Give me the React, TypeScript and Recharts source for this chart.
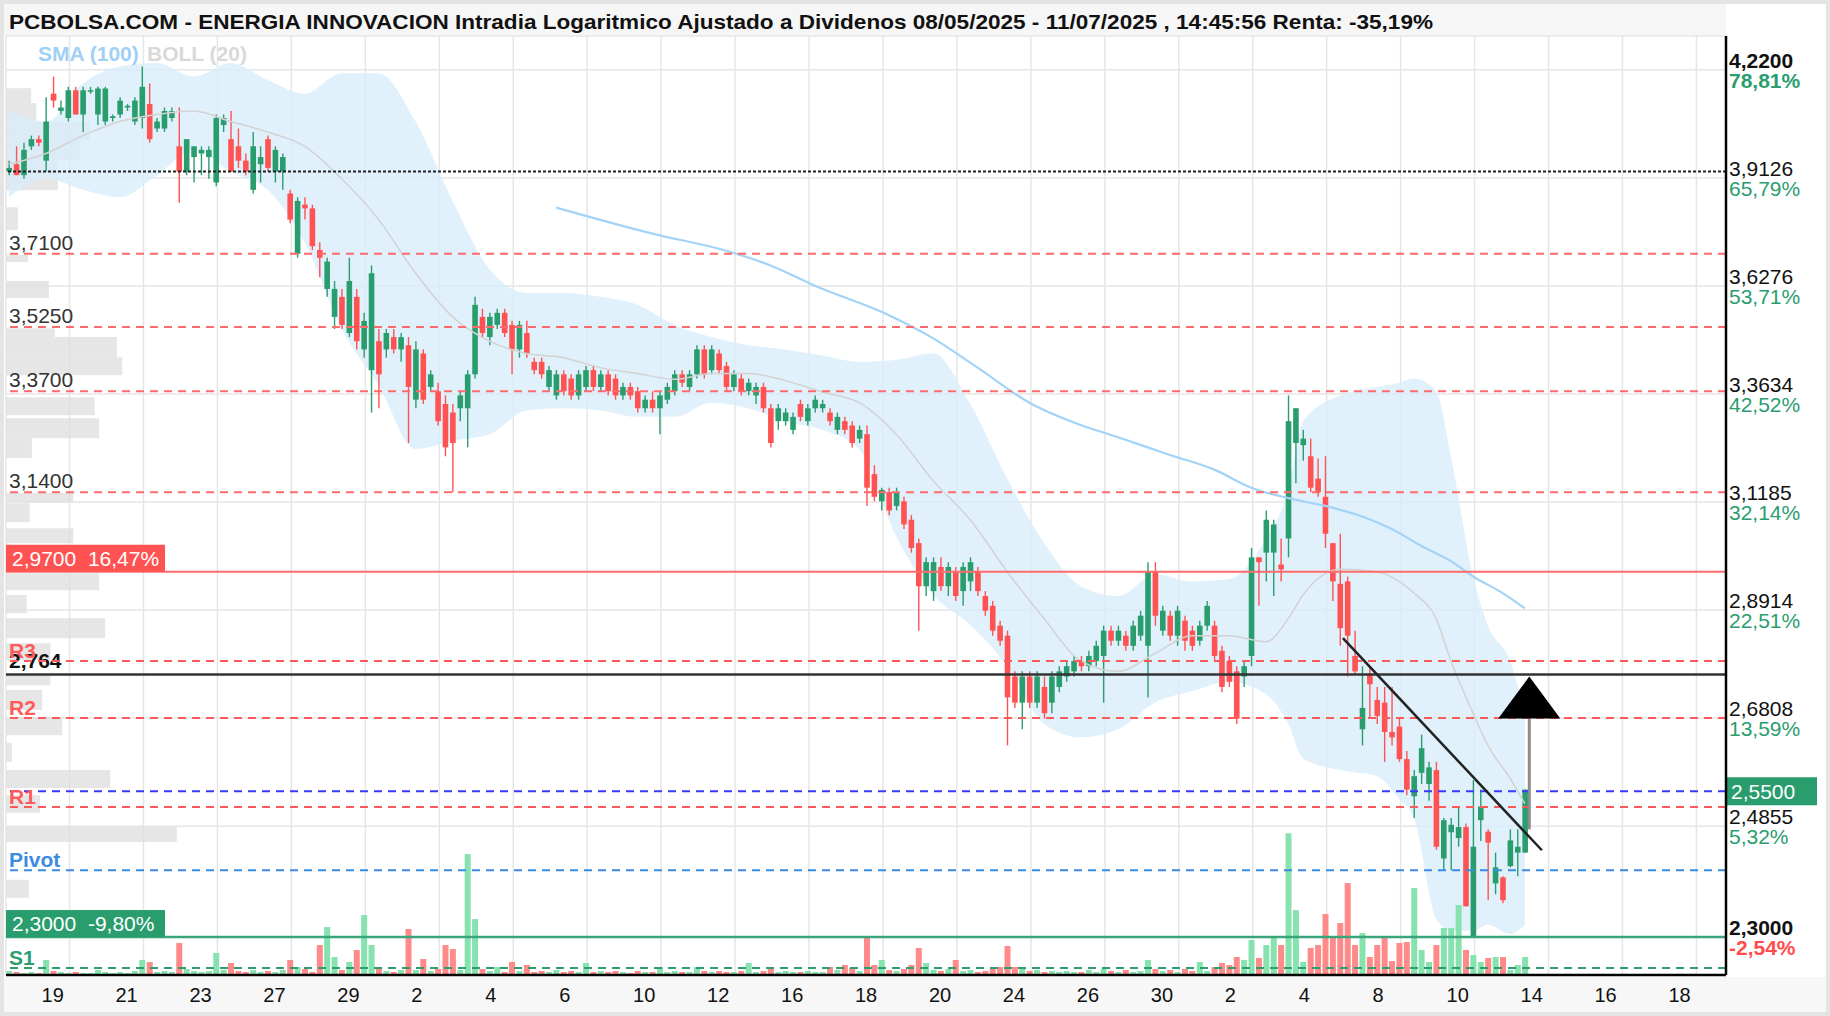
import React from 'react';
import {
  ComposedChart, Bar, Line, Area, XAxis, YAxis, CartesianGrid,
  ReferenceLine, ReferenceArea, ReferenceDot, Cell,
} from 'recharts';

const FONT = '"Liberation Sans", Arial, Helvetica, sans-serif';
const GREEN = '#2a9d6e';
const RED = '#ff5252';
const VOL_GREEN = '#86e2ae';
const VOL_RED = '#ff8a8a';

// x is measured in candle slots (5 per session); slot 0 = the "19" gridline
const X_MIN = -8.59;
const X_MAX = 224.0;
const FIRST_SLOT = -8.2;
const PRICE_MIN = 2.2397;
const PRICE_MAX = 4.321;

const dayLabels = ['19', '21', '23', '27', '29', '2', '4', '6', '10', '12', '16', '18', '20', '24', '26', '30', '2', '4', '8', '10', '14', '16', '18'];

const opens = [
  3.93, 3.95, 3.92, 4.00, 4.02, 3.96, 4.15, 4.10, 4.08, 4.16,
  4.09, 4.16, 4.09, 4.07, 4.08, 4.09, 4.11, 4.07, 4.08, 4.12,
  4.05, 4.05, 4.08, 4.00, 3.93, 3.97, 3.98, 3.97, 3.90, 4.06,
  4.02, 4.00, 3.96, 3.88, 3.95, 4.02, 3.93, 3.93, 3.87, 3.71,
  3.84, 3.83, 3.72, 3.62, 3.55, 3.60, 3.51, 3.60, 3.47, 3.42,
  3.49, 3.47, 3.50, 3.47, 3.48, 3.35, 3.46, 3.38, 3.37, 3.34,
  3.32, 3.33, 3.33, 3.41, 3.55, 3.50, 3.53, 3.56, 3.53, 3.47,
  3.51, 3.44, 3.44, 3.38, 3.36, 3.41, 3.40, 3.36, 3.38, 3.42,
  3.38, 3.41, 3.40, 3.36, 3.38, 3.37, 3.33, 3.35, 3.33, 3.35,
  3.37, 3.41, 3.38, 3.41, 3.47, 3.42, 3.46, 3.43, 3.38, 3.40,
  3.37, 3.36, 3.38, 3.33, 3.30, 3.30, 3.28, 3.34, 3.30, 3.33,
  3.33, 3.32, 3.28, 3.30, 3.29, 3.26, 3.27, 3.18, 3.12, 3.14,
  3.11, 3.12, 3.08, 3.03, 2.94, 2.93, 2.98, 2.94, 2.97, 2.93,
  2.95, 2.97, 2.92, 2.90, 2.86, 2.84, 2.76, 2.71, 2.76, 2.71,
  2.74, 2.71, 2.74, 2.76, 2.77, 2.79, 2.78, 2.79, 2.80, 2.85,
  2.83, 2.84, 2.82, 2.84, 2.82, 2.97, 2.85, 2.88, 2.84, 2.87,
  2.85, 2.83, 2.86, 2.86, 2.81, 2.79, 2.77, 2.76, 2.80, 3.00,
  3.01, 3.01, 2.985, 3.04, 3.25, 3.245, 3.22, 3.17, 3.13, 3.03,
  2.945, 2.95, 2.80, 2.66, 2.765, 2.715, 2.71, 2.655, 2.665, 2.605,
  2.538, 2.58, 2.56, 2.585, 2.43, 2.475, 2.465, 2.484, 2.30, 2.496,
  2.476, 2.388, 2.398, 2.417, 2.44, 2.44,
];
const highs = [
  3.96, 4.00, 4.01, 4.03, 4.03, 4.14, 4.20, 4.13, 4.17, 4.17,
  4.17, 4.17, 4.17, 4.17, 4.09, 4.14, 4.12, 4.14, 4.23, 4.18,
  4.08, 4.11, 4.11, 4.11, 4.02, 4.00, 4.00, 4.00, 4.09, 4.09,
  4.10, 4.05, 3.98, 4.04, 4.00, 4.03, 4.00, 3.98, 3.88, 3.86,
  3.86, 3.84, 3.74, 3.70, 3.64, 3.62, 3.70, 3.62, 3.56, 3.68,
  3.52, 3.52, 3.52, 3.51, 3.50, 3.49, 3.47, 3.42, 3.39, 3.36,
  3.34, 3.37, 3.42, 3.60, 3.57, 3.56, 3.57, 3.57, 3.54, 3.54,
  3.54, 3.45, 3.45, 3.43, 3.42, 3.42, 3.41, 3.42, 3.43, 3.43,
  3.42, 3.42, 3.41, 3.39, 3.39, 3.38, 3.36, 3.37, 3.37, 3.39,
  3.42, 3.42, 3.42, 3.48, 3.48, 3.48, 3.47, 3.44, 3.42, 3.41,
  3.40, 3.39, 3.39, 3.34, 3.34, 3.33, 3.32, 3.35, 3.34, 3.36,
  3.35, 3.33, 3.32, 3.31, 3.30, 3.29, 3.29, 3.20, 3.15, 3.15,
  3.15, 3.13, 3.09, 3.04, 3.00, 3.00, 3.00, 2.99, 2.98, 2.99,
  3.00, 2.98, 2.93, 2.91, 2.87, 2.85, 2.77, 2.77, 2.77, 2.77,
  2.76, 2.77, 2.78, 2.79, 2.80, 2.80, 2.81, 2.83, 2.86, 2.86,
  2.86, 2.85, 2.87, 2.89, 2.99, 2.99, 2.90, 2.89, 2.90, 2.88,
  2.86, 2.87, 2.91, 2.87, 2.82, 2.80, 2.78, 2.79, 3.02, 3.00,
  3.10, 3.08, 3.04, 3.36, 3.33, 3.28, 3.26, 3.215, 3.22, 3.03,
  3.05, 2.96, 2.85, 2.78, 2.78, 2.74, 2.74, 2.74, 2.68, 2.62,
  2.585, 2.65, 2.60, 2.60, 2.50, 2.50, 2.52, 2.49, 2.567, 2.55,
  2.48, 2.44, 2.40, 2.48, 2.48, 2.55,
];
const lows = [
  3.92, 3.92, 3.91, 3.99, 4.00, 3.93, 4.11, 4.09, 4.07, 4.09,
  4.04, 4.15, 4.06, 4.06, 4.07, 4.08, 4.10, 4.06, 4.05, 4.01,
  4.04, 4.04, 4.07, 3.845, 3.92, 3.90, 3.92, 3.91, 3.89, 4.04,
  3.93, 3.94, 3.92, 3.87, 3.90, 3.93, 3.90, 3.88, 3.79, 3.70,
  3.80, 3.72, 3.65, 3.60, 3.52, 3.52, 3.50, 3.47, 3.45, 3.32,
  3.33, 3.45, 3.46, 3.44, 3.25, 3.33, 3.34, 3.37, 3.29, 3.22,
  3.14, 3.30, 3.24, 3.40, 3.50, 3.48, 3.52, 3.50, 3.41, 3.45,
  3.45, 3.41, 3.40, 3.37, 3.35, 3.36, 3.35, 3.35, 3.37, 3.37,
  3.37, 3.36, 3.35, 3.35, 3.35, 3.32, 3.32, 3.32, 3.27, 3.34,
  3.36, 3.38, 3.37, 3.40, 3.40, 3.41, 3.41, 3.37, 3.37, 3.36,
  3.36, 3.34, 3.32, 3.24, 3.28, 3.29, 3.27, 3.30, 3.29, 3.32,
  3.32, 3.29, 3.27, 3.27, 3.24, 3.25, 3.11, 3.12, 3.10, 3.09,
  3.10, 3.06, 3.01, 2.85, 2.92, 2.91, 2.93, 2.92, 2.91, 2.90,
  2.93, 2.92, 2.88, 2.84, 2.82, 2.63, 2.70, 2.66, 2.70, 2.70,
  2.68, 2.69, 2.73, 2.75, 2.76, 2.77, 2.77, 2.78, 2.71, 2.82,
  2.82, 2.81, 2.81, 2.83, 2.72, 2.86, 2.84, 2.83, 2.82, 2.81,
  2.81, 2.82, 2.85, 2.79, 2.73, 2.74, 2.67, 2.74, 2.78, 2.90,
  2.95, 2.92, 2.95, 3.00, 3.16, 3.21, 3.14, 3.13, 3.02, 2.91,
  2.82, 2.76, 2.765, 2.63, 2.68, 2.67, 2.60, 2.63, 2.60, 2.54,
  2.50, 2.56, 2.53, 2.445, 2.41, 2.41, 2.45, 2.35, 2.30, 2.46,
  2.36, 2.37, 2.355, 2.415, 2.40, 2.44,
];
const closes = [
  3.94, 3.92, 3.99, 4.02, 4.01, 4.07, 4.13, 4.11, 4.16, 4.09,
  4.16, 4.16, 4.165, 4.165, 4.085, 4.13, 4.115, 4.13, 4.17, 4.02,
  4.07, 4.10, 4.10, 3.93, 4.02, 4.00, 3.99, 3.99, 4.08, 4.08,
  3.93, 3.96, 3.93, 4.00, 3.97, 3.94, 3.99, 3.97, 3.80, 3.85,
  3.83, 3.73, 3.70, 3.69, 3.62, 3.53, 3.64, 3.49, 3.54, 3.66,
  3.41, 3.51, 3.47, 3.50, 3.38, 3.47, 3.35, 3.41, 3.30, 3.24,
  3.25, 3.36, 3.41, 3.58, 3.51, 3.55, 3.56, 3.51, 3.47, 3.53,
  3.46, 3.42, 3.41, 3.42, 3.41, 3.37, 3.36, 3.41, 3.42, 3.38,
  3.41, 3.37, 3.36, 3.38, 3.36, 3.33, 3.35, 3.33, 3.36, 3.38,
  3.41, 3.39, 3.41, 3.47, 3.41, 3.47, 3.42, 3.38, 3.41, 3.37,
  3.39, 3.38, 3.33, 3.25, 3.33, 3.32, 3.31, 3.31, 3.33, 3.35,
  3.34, 3.30, 3.31, 3.28, 3.25, 3.28, 3.15, 3.13, 3.145, 3.10,
  3.14, 3.07, 3.02, 2.94, 2.99, 2.99, 2.94, 2.98, 2.92, 2.98,
  2.99, 2.93, 2.89, 2.85, 2.83, 2.72, 2.71, 2.76, 2.71, 2.76,
  2.69, 2.76, 2.77, 2.78, 2.79, 2.78, 2.80, 2.82, 2.85, 2.83,
  2.85, 2.82, 2.86, 2.88, 2.97, 2.88, 2.89, 2.84, 2.89, 2.83,
  2.82, 2.86, 2.90, 2.80, 2.74, 2.75, 2.68, 2.78, 3.00, 2.99,
  3.08, 3.07, 2.975, 3.30, 3.33, 3.26, 3.15, 3.14, 3.05, 2.95,
  2.855, 2.84, 2.77, 2.70, 2.745, 2.685, 2.655, 2.645, 2.605, 2.55,
  2.574, 2.625, 2.59, 2.45, 2.496, 2.488, 2.484, 2.35, 2.45, 2.52,
  2.457, 2.415, 2.36, 2.461, 2.45, 2.55,
];
const volumes = [
  4, 3, 2, 3, 2, 15, 4, 3, 2, 3,
  2, 2, 5, 3, 2, 3, 2, 4, 15, 13,
  3, 4, 3, 32, 6, 4, 3, 4, 22, 5,
  12, 4, 3, 5, 3, 4, 3, 5, 15, 8,
  6, 3, 30, 48, 18, 5, 13, 25, 60, 30,
  6, 4, 3, 5, 46, 5, 16, 4, 6, 30,
  26, 5, 121, 56, 6, 4, 8, 3, 13, 4,
  10, 3, 4, 3, 5, 3, 4, 3, 12, 3,
  4, 3, 4, 3, 2, 4, 3, 3, 8, 3,
  4, 3, 3, 8, 4, 3, 4, 3, 3, 4,
  12, 3, 4, 6, 3, 4, 3, 3, 4, 3,
  3, 8, 5, 10, 7, 4, 38, 10, 15, 5,
  4, 6, 10, 27, 12, 5, 4, 6, 15, 4,
  5, 3, 4, 6, 8, 29, 8, 7, 4, 5,
  3, 4, 3, 4, 3, 3, 5, 3, 6, 4,
  3, 5, 3, 4, 15, 6, 4, 5, 3, 6,
  4, 13, 4, 8, 12, 10, 18, 15, 35, 17,
  30, 37, 30, 142, 65, 13, 27, 30, 61, 38,
  52, 92, 30, 42, 18, 30, 37, 14, 32, 33,
  87, 25, 13, 30, 47, 47, 70, 25, 20, 13,
  17, 18, 18, 5, 10, 18,
];

// Bollinger (20) samples, indexed by candle number
const bandIdx = [0, 5, 10, 15, 20, 25, 30, 35, 40, 45, 50, 55, 60, 65, 70, 75, 80, 85, 90, 95, 100, 105, 110, 115, 120, 125, 130, 135, 140, 145, 150, 155, 160, 165, 170, 173, 175, 180, 185, 188, 190, 193, 195, 198, 200, 203, 205];
const bandUpper = [4.10, 4.07, 4.18, 4.23, 4.24, 4.20, 4.24, 4.19, 4.15, 4.21, 4.21, 4.07, 3.85, 3.67, 3.61, 3.61, 3.60, 3.58, 3.53, 3.50, 3.48, 3.47, 3.455, 3.44, 3.445, 3.46, 3.34, 3.17, 3.03, 2.94, 2.92, 2.965, 2.95, 2.955, 3.04, 3.145, 3.30, 3.36, 3.38, 3.39, 3.40, 3.37, 3.22, 2.96, 2.86, 2.79, 2.69];
const bandLower = [3.86, 3.91, 3.88, 3.86, 3.92, 3.99, 3.93, 3.88, 3.74, 3.52, 3.384, 3.236, 3.255, 3.27, 3.325, 3.33, 3.325, 3.31, 3.31, 3.343, 3.33, 3.30, 3.28, 3.236, 3.044, 2.922, 2.862, 2.78, 2.67, 2.645, 2.66, 2.71, 2.732, 2.75, 2.726, 2.67, 2.606, 2.585, 2.574, 2.533, 2.50, 2.33, 2.31, 2.31, 2.32, 2.305, 2.32];
const bandMid = [3.95, 3.98, 4.03, 4.07, 4.09, 4.10, 4.07, 4.04, 4.00, 3.91, 3.80, 3.66, 3.55, 3.49, 3.46, 3.45, 3.426, 3.412, 3.398, 3.412, 3.412, 3.395, 3.368, 3.343, 3.27, 3.165, 3.08, 2.97, 2.874, 2.79, 2.77, 2.805, 2.84, 2.84, 2.828, 2.874, 2.922, 2.975, 2.97, 2.95, 2.926, 2.874, 2.79, 2.69, 2.63, 2.57, 2.525];

const smaIdx = [74, 87, 97, 103, 109, 119, 125, 131, 138, 144, 150, 157, 163, 168, 173, 178, 183, 187, 191, 195, 198, 202, 205];
const smaValues = [3.832, 3.763, 3.718, 3.68, 3.628, 3.554, 3.497, 3.426, 3.343, 3.297, 3.263, 3.223, 3.19, 3.15, 3.127, 3.11, 3.087, 3.06, 3.024, 2.992, 2.96, 2.926, 2.895];

// volume-at-price profile (left edge)
const profileLow = [4.123, 4.068, 4.017, 3.962, 3.879, 3.772, 3.689, 3.597, 3.500, 3.451, 3.408, 3.314, 3.261, 3.216, 3.118, 3.075, 3.030, 2.932, 2.885, 2.835, 2.792, 2.743, 2.696, 2.649, 2.600, 2.553, 2.509, 2.458, 2.364];
const profileHigh = [4.166, 4.123, 4.068, 4.017, 3.962, 3.833, 3.707, 3.640, 3.522, 3.500, 3.451, 3.356, 3.307, 3.261, 3.138, 3.116, 3.062, 2.967, 2.922, 2.875, 2.825, 2.763, 2.734, 2.683, 2.635, 2.585, 2.540, 2.484, 2.394];
const profileSize = [3.4, 4.1, 11.4, 10.1, 7.0, 1.6, 3.0, 5.8, 6.6, 15.0, 15.7, 12.0, 12.6, 3.5, 9.1, 3.2, 9.1, 12.6, 2.8, 13.4, 6.0, 6.0, 4.9, 7.6, 0.8, 14.1, 4.6, 23.1, 3.1];

const priceTicks = [4.22, 3.9126, 3.6276, 3.3634, 3.1185, 2.8914, 2.6808, 2.4855, 2.3];
const priceTickPct = ['78,81%', '65,79%', '53,71%', '42,52%', '32,14%', '22,51%', '13,59%', '5,32%', '-2,54%'];

const supportLevels = [3.71, 3.525, 3.37, 3.14];
const pivotNames = ['R3', 'R2', 'R1', 'Pivot', 'S1'];
const pivotValues = [2.79, 2.681, 2.519, 2.41, 2.2506];
const pivotColors = ['#ff5a5a', '#ff5a5a', '#ff5a5a', '#3d8be0', '#2e9e6e'];

const trendLine = [{ x: 172.2, y: 2.835 }, { x: 199.1, y: 2.444 }];
const arrowX = 197.4;
const arrowFrom = 2.48;
const arrowTo = 2.68;

const candles = opens.map((o, i) => ({
  x: FIRST_SLOT + i,
  open: o,
  high: highs[i],
  low: lows[i],
  close: closes[i],
  range: [lows[i], highs[i]],
  vol: volumes[i],
}));
const bandData = bandIdx.map((j, i) => ({ x: FIRST_SLOT + j, band: [bandLower[i], bandUpper[i]], mid: bandMid[i] }));
const smaData = smaIdx.map((j, i) => ({ x: FIRST_SLOT + j, sma: smaValues[i] }));
const dateTicks = dayLabels.map((_, k) => k * 10);

const fmt = (v: number, d = 4) => v.toFixed(d).replace('.', ',');

const Candle = (props: any) => {
  const { x, y, width, height, payload } = props;
  if (!payload) return null;
  const top = Math.min(y, y + height);
  const h = Math.abs(height);
  const cx = x + width / 2;
  const lh = Math.log(payload.high);
  const ll = Math.log(payload.low);
  const toY = (v: number) => (lh === ll ? top : top + ((lh - Math.log(v)) / (lh - ll)) * h);
  const up = payload.close >= payload.open;
  const color = up ? GREEN : RED;
  const yo = toY(payload.open);
  const yc = toY(payload.close);
  const bodyTop = Math.min(yo, yc);
  const bodyH = Math.max(1.5, Math.abs(yc - yo));
  return (
    <g>
      <line x1={cx} x2={cx} y1={top} y2={top + h} stroke={color} strokeWidth={1.4} />
      <rect x={cx - 2.8} y={bodyTop} width={5.6} height={bodyH} fill={color} />
    </g>
  );
};

const DateTick = ({ x, y, payload }: any) => {
  const k = Math.round(payload.value / 10);
  return (
    <text x={x - 28} y={y + 27} fontSize={20} fill="#111" fontFamily={FONT}>
      {dayLabels[k]}
    </text>
  );
};

const PriceTick = ({ x, y, payload }: any) => {
  const i = priceTicks.indexOf(payload.value);
  if (i < 0) return null;
  const edge = i === 0 || i === priceTicks.length - 1;
  const pctColor = i === priceTicks.length - 1 ? '#ff4d4d' : GREEN;
  return (
    <g fontFamily={FONT} fontSize={21}>
      <text x={x} y={y - 2} fill="#111" fontWeight={edge ? 700 : 400}>{fmt(payload.value)}</text>
      <text x={x} y={y + 18} fill={pctColor} fontWeight={edge ? 700 : 400}>{priceTickPct[i]}</text>
    </g>
  );
};

const leftText = (text: string, color: string, bold = false, dy = -4) => (props: any) => {
  const vb = props.viewBox;
  return (
    <text x={vb.x + 3} y={vb.y + dy} fill={color} fontSize={21} fontWeight={bold ? 700 : 400} fontFamily={FONT}>
      {text}
    </text>
  );
};

const boxLabel = (text: string, color: string) => (props: any) => {
  const vb = props.viewBox;
  return (
    <g>
      <rect x={vb.x} y={vb.y - 27} width={159} height={27} fill={color} />
      <text x={vb.x + 6} y={vb.y - 6} fill="#fff" fontSize={21} fontFamily={FONT}>{text}</text>
    </g>
  );
};

const badgeLabel = (props: any) => {
  const vb = props.viewBox;
  const x = vb.x + vb.width;
  return (
    <g>
      <rect x={x} y={vb.y - 14} width={91} height={28} fill={GREEN} />
      <text x={x + 5} y={vb.y + 8} fill="#fff" fontSize={21} fontFamily={FONT}>{fmt(2.55)}</text>
    </g>
  );
};

export default function App() {
  return (
    <div style={{ position: 'absolute', left: 0, top: 0, width: 1830, height: 1016, background: '#fff' }}>
      <style>{'body{margin:0}'}</style>
      <svg width={1830} height={1016} style={{ position: 'absolute', left: 0, top: 0 }}>
        <rect x={0} y={0} width={1830} height={1016} fill="#e4e4e4" />
        <rect x={4} y={4} width={1822} height={1008} fill="#fff" />
        <rect x={4} y={4} width={1722} height={32} fill="#f6f6f6" />
        <rect x={4} y={977} width={1822} height={35} fill="#f7f7f7" />
      </svg>
      <div style={{ position: 'absolute', left: 0, top: 0 }}>
        <ComposedChart width={1830} height={1016} data={candles} margin={{ top: 36, right: 4, bottom: 0, left: 6 }}>
          <CartesianGrid stroke="#e6e6e6" strokeWidth={1.5} />
          <XAxis
            dataKey="x" type="number" domain={[X_MIN, X_MAX]} allowDataOverflow
            ticks={dateTicks} interval={0} height={41} tickSize={0} tickMargin={0}
            tick={<DateTick />} axisLine={{ stroke: '#000', strokeWidth: 2.5 }} tickLine={false}
          />
          <XAxis xAxisId="vx" dataKey="x" type="number" domain={[X_MIN, X_MAX]} allowDataOverflow hide />
          <YAxis
            orientation="right" scale="log" domain={[PRICE_MIN, PRICE_MAX]} allowDataOverflow
            ticks={priceTicks} interval={0} width={100} tickSize={0} tickMargin={3}
            tick={<PriceTick />} axisLine={{ stroke: '#000', strokeWidth: 2.5 }} tickLine={false}
          />
          <YAxis yAxisId="vy" domain={[0, 940]} hide />

          {profileLow.map((lo, i) => (
            <ReferenceArea
              key={'p' + i} x1={X_MIN} x2={X_MIN + profileSize[i]} y1={lo} y2={profileHigh[i]}
              fill="#dedede" fillOpacity={0.75} stroke="none"
            />
          ))}

          <Area
            data={bandData} dataKey="band" type="monotone" stroke="none"
            fill="#d9eefb" fillOpacity={0.8} isAnimationActive={false} dot={false} activeDot={false}
          />
          <Line data={bandData} dataKey="mid" type="monotone" stroke="#d2d2d2" strokeWidth={1.5} dot={false} isAnimationActive={false} />
          <Line data={smaData} dataKey="sma" type="monotone" stroke="#a3d3f6" strokeWidth={2.2} dot={false} isAnimationActive={false} />

          <Bar xAxisId="vx" yAxisId="vy" dataKey="vol" barSize={6} isAnimationActive={false}>
            {candles.map((c, i) => (
              <Cell key={i} fill={c.close >= c.open ? VOL_GREEN : VOL_RED} />
            ))}
          </Bar>

          <ReferenceLine y={3.93} stroke="#222" strokeWidth={2} strokeDasharray="3 2" />
          {supportLevels.map((v) => (
            <ReferenceLine
              key={v} y={v} stroke="#ff6b6b" strokeWidth={2} strokeDasharray="8 6"
              label={leftText(fmt(v), '#333')}
            />
          ))}
          <ReferenceLine y={2.97} stroke="#ff6b6b" strokeWidth={2} label={boxLabel('2,9700\u00a0\u00a016,47%', RED)} />
          <ReferenceLine y={2.764} stroke="#333" strokeWidth={2.5} label={leftText('2,764', '#111', true, -6)} />
          <ReferenceLine y={2.547} stroke="#3838ff" strokeWidth={2} strokeDasharray="8 6" label={badgeLabel} />
          {pivotValues.map((v, i) => (
            <ReferenceLine
              key={pivotNames[i]} y={v} stroke={pivotColors[i]} strokeWidth={2} strokeDasharray="8 6"
              label={leftText(pivotNames[i], pivotColors[i], true, -3)}
            />
          ))}
          <ReferenceLine y={2.3} stroke="#3aa57a" strokeWidth={2.5} label={boxLabel('2,3000\u00a0\u00a0-9,80%', GREEN)} />

          <Bar dataKey="range" barSize={6} isAnimationActive={false} shape={(p: any) => <Candle {...p} />} />

          <ReferenceLine segment={trendLine} stroke="#222" strokeWidth={2.5} />
          <ReferenceLine segment={[{ x: arrowX, y: arrowFrom }, { x: arrowX, y: arrowTo }]} stroke="#8c8c8c" strokeWidth={3} />
          <ReferenceDot
            x={arrowX} y={arrowTo}
            shape={(p: any) => (
              <polygon points={`${p.cx},${p.cy - 42} ${p.cx - 31},${p.cy} ${p.cx + 31},${p.cy}`} fill="#000" />
            )}
          />
        </ComposedChart>
      </div>
      <svg width={1830} height={80} style={{ position: 'absolute', left: 0, top: 0, pointerEvents: 'none' }}>
        <text
          x={9} y={29} fontSize={21} fontWeight={700} fill="#111" fontFamily={FONT}
          textLength={1424} lengthAdjust="spacingAndGlyphs"
        >
          PCBOLSA.COM - ENERGIA INNOVACION Intradia Logaritmico Ajustado a Dividenos 08/05/2025 - 11/07/2025 , 14:45:56 Renta: -35,19%
        </text>
        <text x={38} y={61} fontSize={21} fontWeight={700} fill="#9fd0f5" fontFamily={FONT}>SMA (100)</text>
        <text x={147} y={61} fontSize={21} fontWeight={700} fill="#d9d9d9" fontFamily={FONT}>BOLL (20)</text>
      </svg>
    </div>
  );
}
